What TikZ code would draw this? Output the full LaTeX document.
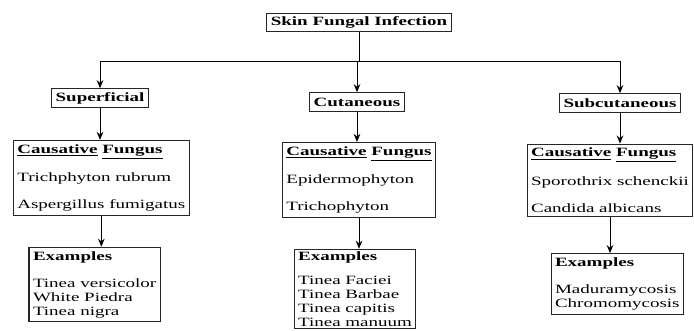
\documentclass[tikz,border=0pt]{standalone}
\usepackage{fontspec}
\setmainfont[FakeStretch=1.5]{Liberation Serif}
\usetikzlibrary{positioning,arrows.meta}

\newcommand{\causehead}{\underline{\textbf{Causative}} \underline{\textbf{Fungus}}}

\begin{document}
\begin{tikzpicture}[
    x=0.75pt, y=-0.75pt,
    font=\fontsize{9.5}{10.5}\selectfont,
    head/.style={rectangle, draw=black!85, line width=0.8pt, inner xsep=3pt, inner ysep=2pt, minimum height=14pt, font=\fontsize{9.5}{10.5}\selectfont\bfseries},
    infobox/.style={rectangle, draw=black!85, line width=0.8pt, align=left, inner xsep=3pt, inner ysep=3pt},
    arrow/.style={-{Stealth[length=6pt, width=5pt]}, line width=0.7pt},
    link/.style={line width=0.7pt}
]
\useasboundingbox (0,0) rectangle (694,330);
\clip (0,0) rectangle (694,330);

% Root and the three kinds
\node[head] (root) at (359,22.5) {Skin Fungal Infection};
\coordinate (bar) at (359,61);

\node[head] (sup) at (100,98) {Superficial};
\node[head] (cut) at (357,102) {Cutaneous};
\node[head] (sub) at (620,103) {Subcutaneous};

% Causative fungus boxes
\node[infobox, below=24pt of sup, xshift=1pt] (supfungus) {
    \causehead\\[9.75pt]
    Trichphyton rubrum\\[9.75pt]
    Aspergillus fumigatus
};
\node[infobox, below=22.5pt of cut, xshift=1.5pt] (cutfungus) {
    \causehead\\[9.75pt]
    Epidermophyton\\[9.75pt]
    Trichophyton
};
\node[infobox, below=23pt of sub, xshift=-7.5pt] (subfungus) {
    \causehead\\[9.75pt]
    Sporothrix schenckii\\[9.75pt]
    Candida albicans
};

% Example boxes
\node[infobox, below=23pt of supfungus, xshift=-5pt] (supex) {
    \textbf{Examples}\\[9.75pt]
    Tinea versicolor\\
    White Piedra\\
    Tinea nigra
};
\node[infobox, below=23pt of cutfungus, xshift=-3pt, inner ysep=2pt] (cutex) {
    \textbf{Examples}\\[7pt]
    Tinea Faciei\\
    Tinea Barbae\\
    Tinea capitis\\
    Tinea manuum
};
\node[infobox, below=27pt of subfungus, xshift=5.5pt] (subex) {
    \textbf{Examples}\\[9.75pt]
    Maduramycosis\\
    Chromomycosis
};

% Connectors
\draw[link] (root.south) -- (bar);
\draw[link] (sup.north |- bar) -- (sub.north |- bar);
\foreach \n in {sup, cut, sub}
    \draw[arrow] (\n.north |- bar) -- (\n.north);
\foreach \a/\b in {sup/supfungus, supfungus/supex, cut/cutfungus, cutfungus/cutex, sub/subfungus, subfungus/subex}
    \draw[arrow] (\a.south) -- (\a.south |- \b.north);

\end{tikzpicture}
\end{document}
